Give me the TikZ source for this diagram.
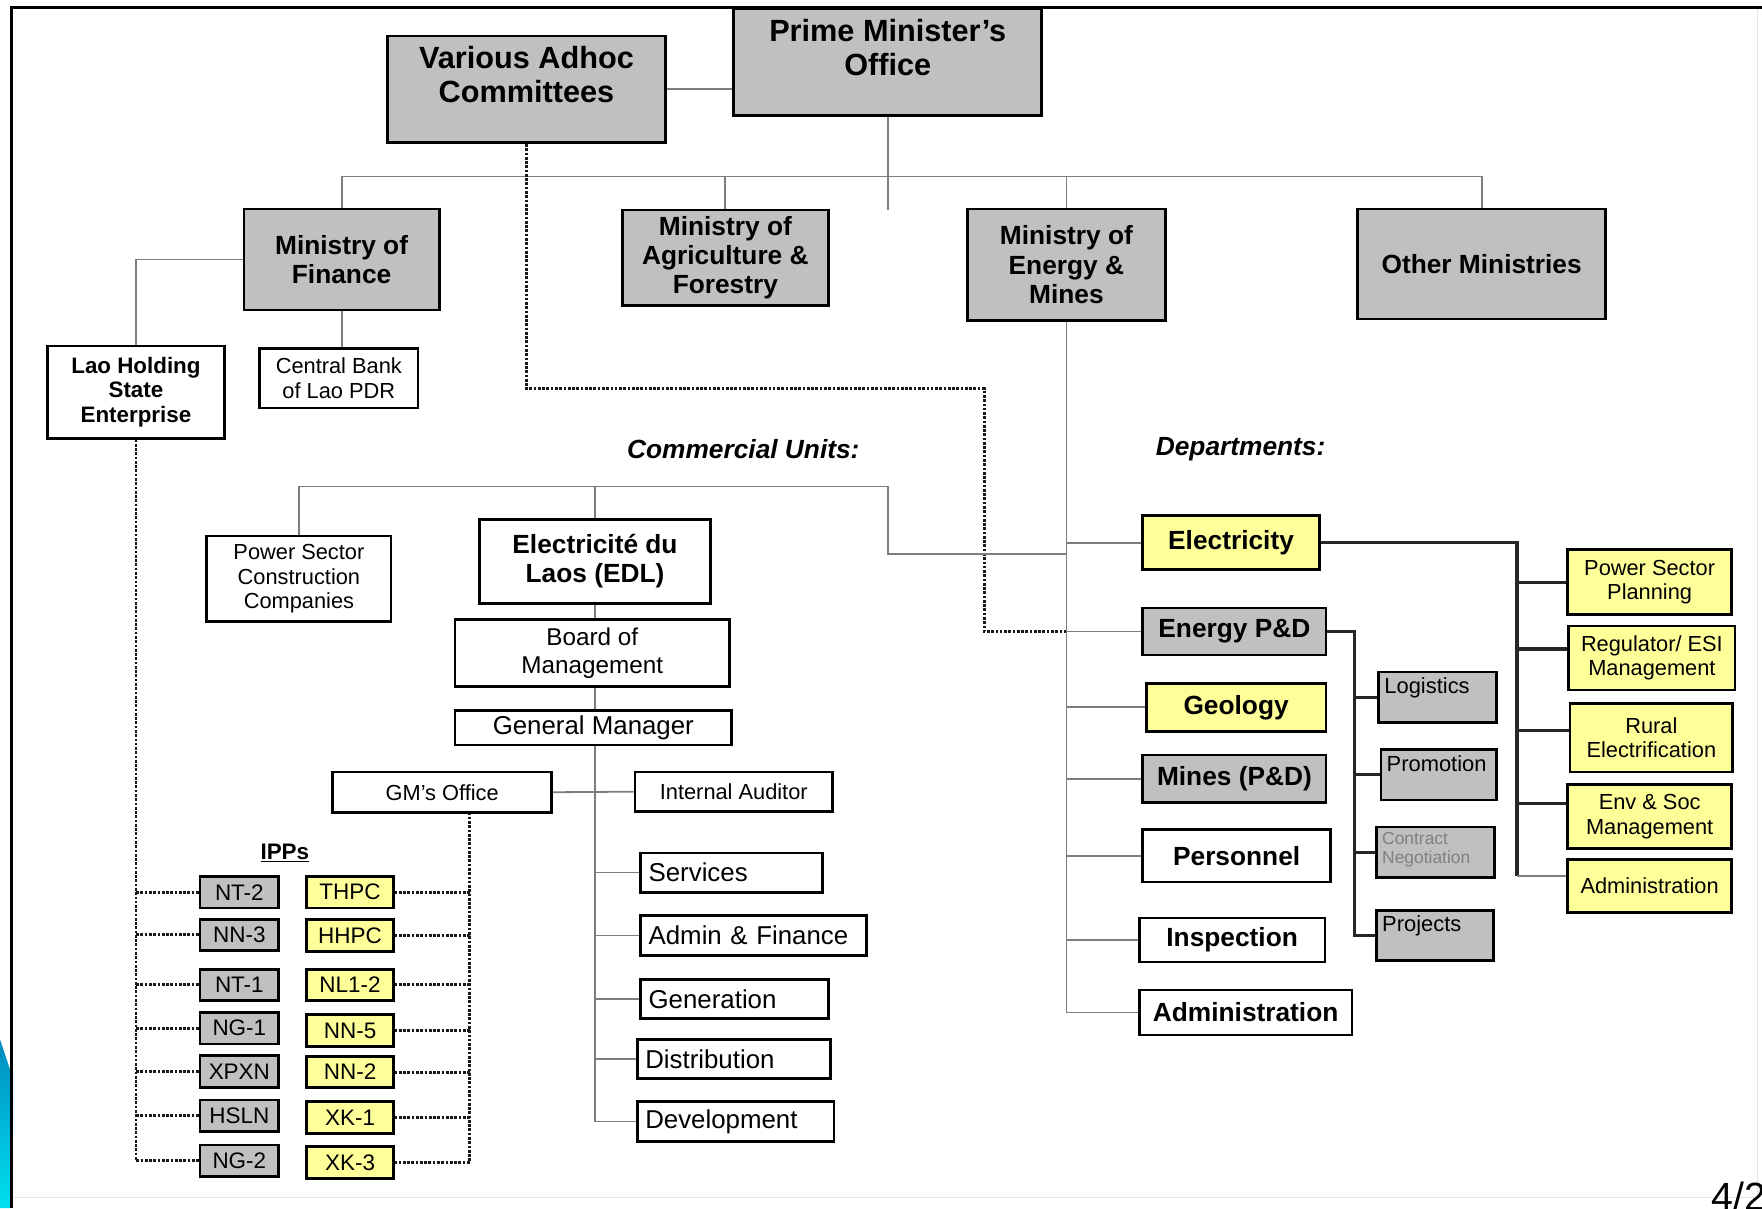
\documentclass[tikz,border=0pt]{standalone}
\usepackage{fontspec}
\setmainfont{Liberation Sans}
\usetikzlibrary{backgrounds}
\definecolor{boxgray}{RGB}{192,192,192}
\definecolor{boxyellow}{RGB}{255,255,153}
\definecolor{linegray}{RGB}{125,125,125}
\definecolor{slideblue}{RGB}{0,140,190}
\definecolor{slidecyan}{RGB}{0,225,240}
\tikzset{
  orgbox/.style={draw=black,line width=2.4pt,inner sep=0pt,align=center},
  graybox/.style={orgbox,fill=boxgray},
  yellowbox/.style={orgbox,fill=boxyellow},
  whitebox/.style={orgbox,fill=white},
  boxsize/.style 2 args={minimum width=#1,minimum height=#2},
  toptxt/.style={font=\fontsize{27.3}{30}\selectfont\bfseries,align=center,inner sep=0pt,anchor=north,yshift=-10pt},
  mintxt/.style={font=\fontsize{23.4}{26}\selectfont\bfseries},
  smbold/.style={font=\fontsize{19.9}{22}\selectfont\bfseries},
  smtxt/.style={font=\fontsize{19.4}{22}\selectfont},
  boardtxt/.style={font=\fontsize{21.6}{25}\selectfont},
  unittxt/.style={font=\fontsize{23}{26}\selectfont},
  ipptxt/.style={font=\fontsize{20}{22}\selectfont},
  sectxt/.style={font=\fontsize{23.4}{26}\selectfont\bfseries\itshape},
  subtxt/.style={font=\fontsize{19.5}{22}\selectfont,inner sep=0pt,anchor=north west,xshift=6pt,yshift=-6pt},
  tinytxt/.style={subtxt,font=\fontsize{15.5}{17}\selectfont,text=black!50,align=left},
  unitbox/.style={whitebox,unittxt,anchor=west,align=left,inner xsep=7pt,minimum height=35},
  ippgray/.style={graybox,ipptxt,boxsize={70}{28}},
  ippyellow/.style={yellowbox,ipptxt,boxsize={77}{28}},
  conn/.style={draw=linegray,line width=1.6pt},
  darkconn/.style={draw=black!85,line width=2.8pt},
  dotconn/.style={draw=black!90,line width=2.6pt,dash pattern=on 2.4pt off 1.4pt}
}
\begin{document}
\begin{tikzpicture}[x=1pt,y=-1pt]
\useasboundingbox (0,0) rectangle (1568,1075);
% slide frame
\shade[top color=slideblue,bottom color=slidecyan] (0,925) -- (9,952) -- (9,1075) -- (0,1075) -- cycle;
\draw[black!10,line width=1pt] (10,1066) -- (1564,1066) -- (1564,6);
\draw[line width=3pt] (1568,6.5) -- (10,6.5) -- (10,1075);
\node[anchor=base west,inner sep=0pt,font=\fontsize{35}{40}\selectfont] (slideno) at (1523,1077) {4/2};

% government
\node[graybox,boxsize={274}{95},label={[toptxt]north:{Prime Minister’s\\Office}}] (pmo) at (790,55.5) {};
\node[graybox,boxsize={247}{95},label={[toptxt]north:{Various Adhoc\\Committees}}] (adhoc) at (468.5,79.5) {};
\coordinate (pmostub) at (790,187);
\coordinate (minbus) at (790,157);

% ministries
\node[graybox,boxsize={174}{90},mintxt] (mof) at (304,231) {Ministry of\\Finance};
\node[graybox,boxsize={183}{85},mintxt] (maf) at (645.5,229.5) {Ministry of\\Agriculture \&\\Forestry};
\node[graybox,boxsize={176}{99},mintxt] (mem) at (949,235.5) {Ministry of\\Energy \&\\Mines};
\node[graybox,boxsize={221}{98},mintxt] (oth) at (1318.5,235) {Other Ministries};
\node[whitebox,boxsize={158}{82},smbold] (lhse) at (121,349) {Lao Holding\\State\\Enterprise};
\node[whitebox,boxsize={141}{53},smtxt] (cbank) at (301.5,336.5) {Central Bank\\of Lao PDR};

% commercial units
\node[sectxt] (cutitle) at (661.5,400) {Commercial Units:};
\coordinate (cubus) at (790,433);
\coordinate (cujoin) at (949,493);
\node[whitebox,boxsize={164}{76},smtxt] (pscc) at (266,515) {Power Sector\\Construction\\Companies};
\node[whitebox,boxsize={205}{75},mintxt] (edl) at (529.5,499.5) {Electricité du\\Laos (EDL)};
\node[whitebox,boxsize={244}{60},boardtxt] (bom) at (527,581) {Board of\\Management};
\node[whitebox,boxsize={246}{31},unittxt] (gm) at (528,647.5) {General Manager};
\node[whitebox,boxsize={195}{36},smtxt] (gmo) at (393.5,705) {GM’s Office};
\node[whitebox,boxsize={176}{35},smtxt] (iaud) at (653,704.5) {Internal Auditor};
\node[unitbox,text width=148] (serv) at (569,776.5) {Services};
\node[unitbox,text width=187] (adfin) at (569,832.5) {Admin \& Finance};
\node[unitbox,text width=153] (gen) at (569,889) {Generation};
\node[unitbox,text width=158] (dist) at (566,942.5) {Distribution};
\node[unitbox,text width=161] (dev) at (566,998) {Development};

% IPPs
\node[ipptxt,font=\fontsize{20}{22}\selectfont\bfseries] (ipps) at (253.5,759) {\underline{IPPs}};
\coordinate (gmodrop) at (418,723);
\foreach \k/\lab/\yy in {nt2/NT-2/794,nn3/NN-3/832,nt1/NT-1/876.5,ng1/NG-1/915,xpxn/XPXN/953.5,hsln/HSLN/993,ng2/NG-2/1033}
	\node[ippgray] (\k) at (213,\yy) {\lab};
\foreach \k/\lab/\yy in {thpc/THPC/794,hhpc/HHPC/832.5,nl12/NL1-2/876.5,nn5/NN-5/917,nn2/NN-2/954,xk1/XK-1/994.5,xk3/XK-3/1034.5}
	\node[ippyellow] (\k) at (311.5,\yy) {\lab};

% departments
\node[sectxt] (dtitle) at (1104,400) {Departments:};
\node[yellowbox,boxsize={157}{48},mintxt] (elec) at (1095.5,483) {Electricity};
\node[graybox,boxsize={163}{42},mintxt] (epd) at (1098.5,562) {Energy P\&D};
\node[yellowbox,boxsize={160}{43},mintxt] (geo) at (1100,629.5) {Geology};
\node[graybox,boxsize={163}{42},mintxt] (mpd) at (1098.5,693) {Mines (P\&D)};
\node[whitebox,boxsize={167}{47},mintxt] (pers) at (1100.5,761.5) {Personnel};
\node[whitebox,boxsize={165}{39},mintxt] (insp) at (1096.5,836.5) {Inspection};
\node[whitebox,boxsize={189}{40},mintxt] (dadm) at (1108.5,901) {Administration};
\coordinate (adbend) at (876,346);

% energy P&D sections
\coordinate (pdbus) at (1205,562);
\node[graybox,boxsize={105}{45},label={[subtxt]north west:Logistics}] (logi) at (1279.5,620.5) {};
\node[graybox,boxsize={103}{45},label={[subtxt]north west:Promotion}] (promo) at (1280.5,689.5) {};
\node[graybox,boxsize={105}{45},label={[tinytxt]north west:{Contract\\Negotiation}}] (contr) at (1277.5,758.5) {};
\node[graybox,boxsize={104}{45},label={[subtxt]north west:Projects}] (proj) at (1277,832.5) {};

% electricity sections
\coordinate (elbus) at (1350,483);
\node[yellowbox,boxsize={146}{58},smtxt] (psp) at (1468,518) {Power Sector\\Planning};
\node[yellowbox,boxsize={148}{57},smtxt] (reg) at (1470,585.5) {Regulator/ ESI\\Management};
\node[yellowbox,boxsize={145}{61},smtxt] (rur) at (1469.5,656.5) {Rural\\Electrification};
\node[yellowbox,boxsize={146}{57},smtxt] (env) at (1468,726.5) {Env \& Soc\\Management};
\node[yellowbox,boxsize={146}{47},smtxt] (radm) at (1468,788.5) {Administration};

\begin{scope}[on background layer]
\draw[conn] (adhoc.east) -- (pmo.west |- adhoc.east);
\draw[conn] (pmo.south) -- (pmostub);
\draw[conn] (mof.north) |- (oth.north |- minbus) -- (oth.north);
\foreach \m in {maf,mem}
	\draw[conn] (\m.north) -- (\m.north |- minbus);
\draw[conn] (mof.west) -| (lhse.north);
\draw[conn] (mof.south) -- (mof.south |- cbank.north);
\draw[dotconn] (adhoc.south) |- (adbend) |- (epd.west -| mem.south);
% commercial
\draw[conn] (cujoin) -| (cubus) -| (pscc.north);
\draw[conn] (edl.north) -- (edl.north |- cubus);
\draw[conn] (edl.south) |- (dev.west);
\foreach \u in {serv,adfin,gen,dist}
	\draw[conn] (\u.west) -- (\u.west -| edl.south);
\draw[conn] (gmo.east) -- (iaud.west);
\draw[dotconn] (lhse.south) |- (ng2.west);
\draw[dotconn] (gmodrop) |- (xk3.east);
\foreach \k in {nt2,nn3,nt1,ng1,xpxn,hsln}
	\draw[dotconn] (\k.west) -- (\k.west -| lhse.south);
\foreach \k in {thpc,hhpc,nl12,nn5,nn2,xk1}
	\draw[dotconn] (\k.east) -- (\k.east -| gmodrop);
% departments
\draw[conn] (mem.south) |- (dadm.west);
\foreach \d in {elec,epd,geo,mpd,pers,insp}
	\draw[conn] (\d.west) -- (\d.west -| mem.south);
\draw[darkconn] (epd.east) -- (pdbus) |- (proj.west);
\foreach \s in {logi,promo,contr}
	\draw[darkconn] (\s.west) -- (\s.west -| pdbus);
\draw[darkconn] (elec.east) -- (elbus) -- (elbus |- radm.173);
\foreach \s/\a in {psp/180,reg/174,rur/175,env/171}
	\draw[darkconn] (\s.\a) -- (\s.\a -| elbus);
\draw[conn] (radm.173) -- (radm.173 -| elbus);
\end{scope}
\end{tikzpicture}
\end{document}
